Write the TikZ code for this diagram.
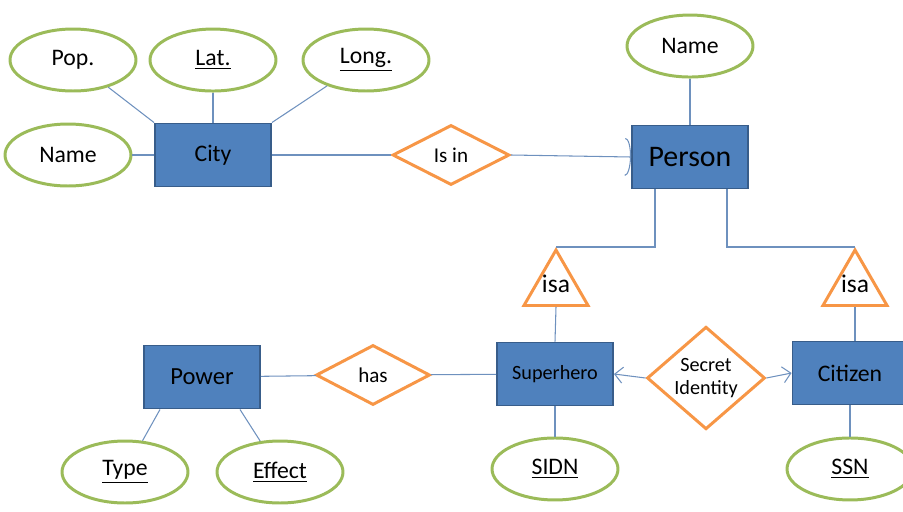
\documentclass[tikz,border=0pt]{standalone}
\usepackage{fontspec}
\setmainfont{Carlito}
\usetikzlibrary{shapes.geometric,arrows.meta,positioning}
\definecolor{boxblue}{HTML}{4F81BD}
\definecolor{boxedge}{HTML}{385D8A}
\definecolor{attrgreen}{HTML}{9BBB59}
\definecolor{relorange}{HTML}{F79646}
\definecolor{linkblue}{RGB}{110,145,190}
\begin{document}
\begin{tikzpicture}[x=0.02cm,y=-0.02cm,
entity/.style={
rectangle,
draw=boxedge,
fill=boxblue,
line width=1.1pt,
minimum width=2.32cm,
minimum height=1.26cm,
font=\fontsize{13.5}{16}\selectfont
},
attr/.style={
ellipse,
draw=attrgreen,
fill=white,
line width=1.7pt,
minimum width=2.52cm,
minimum height=1.24cm,
font=\fontsize{13.5}{16}\selectfont
},
rel/.style={
diamond,
draw=relorange,
fill=white,
line width=1.7pt,
inner sep=0pt,
minimum width=2.34cm,
minimum height=1.2cm,
font=\fontsize{12}{14}\selectfont
},
isa/.style={
regular polygon,
regular polygon sides=3,
draw=relorange,
line width=1.7pt,
inner sep=0pt,
minimum size=1.48cm,
label={[font=\fontsize{14.5}{16}\selectfont,yshift=2pt]center:isa}
},
link/.style={draw=linkblue,line width=0.6pt},
]
\useasboundingbox (0,0) rectangle (903,511);

% city side
\node (city) [entity] at (213,155) {City};
\node (cname) [attr] at (68,155) {Name};
\node (pop) [attr] at (73,60) {Pop.};
\node (lat) [attr,above of=city,node distance=1.9cm] {\underline{Lat.}};
\node (long) [attr] at (366,60) {\underline{Long.}};
\node (isin) [rel] at (451,155) {Is in};

% person and its subclasses
\node (person) [entity,font=\fontsize{17}{20}\selectfont] at (690,157) {Person};
\node (pname) [attr,above of=person,node distance=2.22cm] {Name};
\node (isa1) [isa] at (556,287) {};
\node (isa2) [isa] at (855,287) {};
\node (hero) [entity,font=\fontsize{11.5}{14}\selectfont] at (555,374) {Superhero};
\node (citizen) [entity,minimum width=2.3cm] at (850,373) {Citizen};
\node (secret) [rel,align=center,minimum width=2.36cm,minimum height=1.68cm,
  font=\fontsize{11.5}{13}\selectfont] at (706,378) {Secret\\Identity};
\node (sidn) [attr,below of=hero,node distance=1.9cm] {\underline{SIDN}};
\node (ssn) [attr,below of=citizen,node distance=1.92cm] {\underline{SSN}};

% power side
\node (power) [entity,font=\fontsize{14}{16}\selectfont] at (202,377) {Power};
\node (has) [rel,minimum width=2.28cm] at (373,375) {has};
\node (type) [attr] at (125,472) {\underline{Type}};
\node (effect) [attr] at (280,472) {\underline{Effect}};

\draw[link] (cname) -- (city);
\draw[link] (pop) -- (city.north west);
\draw[link] (lat) -- (city);
\draw[link] (long) -- (city.north east);
\draw[link] (city) -- (isin);
\draw[link,-{Arc Barb[width=0.76cm,length=0.12cm]}] (isin.east) -- (person.west);
\draw[link] (pname) -- (person);
\draw[link] ([xshift=-0.7cm]person.south) |- (isa1.corner 1);
\draw[link] ([xshift=0.74cm]person.south) |- (isa2.corner 1);
\draw[link] (isa1.south) -- (hero.north);
\draw[link] (isa2.south) -- (isa2.south |- citizen.north);
\draw[link,-{Straight Barb[length=1.6mm,width=3.2mm]}] (secret.west) -- (hero.east);
\draw[link,-{Straight Barb[length=1.6mm,width=3.2mm]}] (secret.east) -- (citizen.west);
\draw[link] (hero) -- (sidn);
\draw[link] (citizen) -- (ssn);
\draw[link] (power) -- (has);
\draw[link] (has) -- (hero);
\draw[link] ([xshift=-0.84cm]power.south) -- (type);
\draw[link] ([xshift=0.76cm]power.south) -- (effect);
\end{tikzpicture}
\end{document}
